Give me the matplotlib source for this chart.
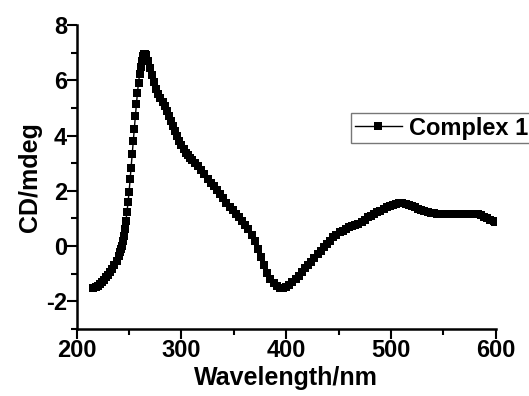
import numpy as np
import matplotlib
matplotlib.use('Agg')
import matplotlib.pyplot as plt
from matplotlib.ticker import MultipleLocator

# CD spectrum
wavelength = [216, 218, 220, 222, 224, 226, 228, 230, 232, 234, 236, 238,
              240, 241, 242, 243, 244, 245, 246, 247, 248, 249, 250, 251,
              252, 253, 254, 255, 256, 257, 258, 259, 260, 261, 262, 263,
              264, 265, 266, 268, 270, 272, 274, 276, 278, 280, 282, 284,
              286, 288, 290, 292, 294, 296, 298, 300, 302, 304, 306, 308,
              310, 313, 316, 319, 322, 325, 328, 331, 334, 337, 340, 343,
              346, 349, 352, 355, 358, 361, 364, 367, 370, 373, 376, 379,
              382, 385, 388, 391, 394, 397, 400, 403, 406, 409, 412, 415,
              418, 421, 424, 427, 430, 433, 436, 439, 442, 445, 448, 451,
              454, 457, 460, 463, 466, 469, 472, 475, 478, 481, 484, 487,
              490, 493, 496, 499, 502, 505, 508, 511, 514, 517, 520, 523,
              526, 529, 532, 535, 538, 541, 544, 547, 550, 553, 556, 559,
              562, 565, 568, 571, 574, 577, 580, 583, 586, 589, 592, 595,
              598, 599]
cd = [-1.50, -1.48, -1.44, -1.38, -1.31, -1.22, -1.13, -1.03, -0.93, -0.82,
      -0.68, -0.52, -0.34, -0.23, -0.11, 0.02, 0.17, 0.38, 0.61, 0.91,
      1.24, 1.58, 1.96, 2.42, 2.84, 3.32, 3.80, 4.25, 4.70, 5.13,
      5.55, 5.91, 6.21, 6.48, 6.70, 6.86, 6.94, 6.95, 6.90, 6.70,
      6.45, 6.18, 5.92, 5.70, 5.52, 5.36, 5.22, 5.06, 4.90, 4.72,
      4.54, 4.36, 4.16, 3.98, 3.80, 3.64, 3.50, 3.38, 3.28, 3.20,
      3.12, 3.02, 2.90, 2.76, 2.60, 2.44, 2.30, 2.16, 2.04, 1.90,
      1.74, 1.56, 1.42, 1.30, 1.18, 1.05, 0.92, 0.78, 0.62, 0.42,
      0.18, -0.10, -0.40, -0.68, -0.96, -1.18, -1.34, -1.46, -1.52, -1.52,
      -1.48, -1.40, -1.30, -1.20, -1.08, -0.94, -0.80, -0.68, -0.58, -0.44,
      -0.30, -0.17, -0.04, 0.08, 0.20, 0.32, 0.42, 0.50, 0.56, 0.62,
      0.68, 0.72, 0.76, 0.80, 0.86, 0.95, 1.04, 1.10, 1.16, 1.22,
      1.28, 1.35, 1.41, 1.46, 1.50, 1.53, 1.55, 1.55, 1.53, 1.49,
      1.45, 1.40, 1.36, 1.32, 1.28, 1.24, 1.21, 1.19, 1.17, 1.16,
      1.16, 1.16, 1.16, 1.16, 1.16, 1.16, 1.16, 1.16, 1.16, 1.16,
      1.16, 1.15, 1.12, 1.06, 1.00, 0.95, 0.90, 0.89]

plt.rcParams['font.family'] = ['Liberation Sans', 'DejaVu Sans']
plt.rcParams['font.weight'] = 'bold'
plt.rcParams['axes.unicode_minus'] = False

fig = plt.figure(figsize=(5.29, 3.96), dpi=100)
ax = fig.add_axes([0.145, 0.169, 0.792, 0.768])

ax.plot(wavelength, cd, color='black', linestyle='-', linewidth=1.0,
        marker='s', markersize=5.2, markeredgewidth=0, label='Complex 1')

ax.set_xlim(200, 600)
ax.set_ylim(-3, 8)
ax.xaxis.set_major_locator(MultipleLocator(100))
ax.xaxis.set_minor_locator(MultipleLocator(50))
ax.yaxis.set_major_locator(MultipleLocator(2))
ax.yaxis.set_minor_locator(MultipleLocator(1))

for side in ['top', 'right']:
    ax.spines[side].set_visible(False)
for side in ['left', 'bottom']:
    ax.spines[side].set_linewidth(1.8)

ax.tick_params(which='major', direction='out', length=7, width=1.5,
               labelsize=17, pad=0)
ax.tick_params(which='minor', direction='out', length=4, width=1.5)
for lab in ax.get_xticklabels() + ax.get_yticklabels():
    lab.set_fontweight('bold')

ax.set_xlabel('Wavelength/nm', fontsize=18, fontweight='bold', labelpad=3)
ax.set_ylabel('CD/mdeg', fontsize=18, fontweight='bold', labelpad=3)

leg = ax.legend(loc='upper left', bbox_to_anchor=(351 / 529, 1 - 113 / 396),
                bbox_transform=fig.transFigure, fontsize=17, frameon=True,
                fancybox=False, handlelength=2.0, handletextpad=0.3,
                borderpad=0.15, borderaxespad=0)
leg.get_frame().set_edgecolor('#555555')
leg.get_frame().set_linewidth(1.0)
for t in leg.get_texts():
    t.set_fontweight('bold')

fig.savefig('out.png', dpi=100)
